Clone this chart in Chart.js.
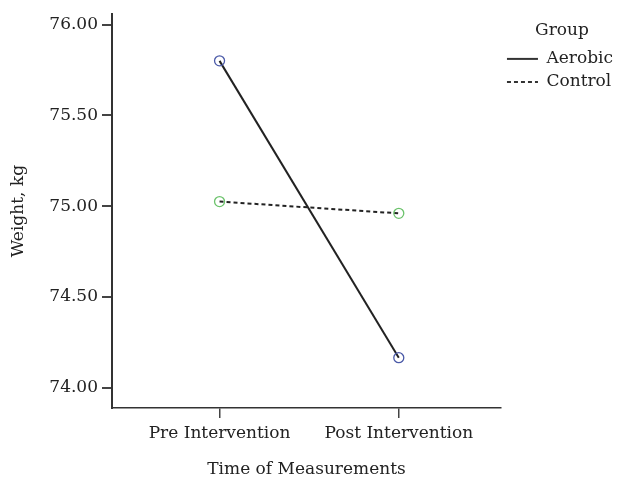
<!DOCTYPE html>
<html>
<head>
<meta charset="utf-8">
<script src="https://cdn.jsdelivr.net/npm/chart.js@4.4.1/dist/chart.umd.min.js"></script>
<style>
  html, body { margin: 0; padding: 0; background: #fff; }
  #c { display: block; }
</style>
</head>
<body>
<canvas id="c" width="617" height="478"></canvas>
<script>
// data
const categories = ['Pre Intervention', 'Post Intervention'];
const groups = ['Aerobic', 'Control'];
const aerobic = [75.80, 74.165];
const control = [75.025, 74.96];
const yTicks = [74.00, 74.50, 75.00, 75.50, 76.00];

const FONT = 'DejaVu Serif';
const FS = 17;
const INK = '#222';

function toPoints(vals) {
  return vals.map((v, i) => ({ x: i, y: v }));
}

const ctx = document.getElementById('c').getContext('2d');
new Chart(ctx, {
  type: 'line',
  data: {
    datasets: [
      {
        label: groups[0],
        data: toPoints(aerobic),
        borderColor: INK,
        borderWidth: 2,
        pointRadius: 5,
        pointBorderWidth: 1.3,
        pointBorderColor: '#4b5aa8',
        pointBackgroundColor: 'rgba(0,0,0,0)',
        fill: false
      },
      {
        label: groups[1],
        data: toPoints(control),
        borderColor: INK,
        borderWidth: 2,
        borderDash: [4, 3],
        pointRadius: 5,
        pointBorderWidth: 1.3,
        pointBorderColor: '#6cc36c',
        pointBackgroundColor: 'rgba(0,0,0,0)',
        fill: false
      }
    ]
  },
  options: {
    responsive: false,
    animation: false,
    layout: { padding: { top: 14, right: -6, left: 0, bottom: 0 } },
    plugins: {
      tooltip: { enabled: false },
      legend: {
        position: 'right',
        align: 'start',
        title: {
          display: true,
          text: 'Group',
          color: INK,
          font: { family: FONT, size: FS },
          padding: { top: 8, bottom: 2 }
        },
        labels: {
          usePointStyle: true,
          pointStyle: 'line',
          pointStyleWidth: 31,
          boxWidth: 31,
          boxHeight: FS,
          padding: 6,
          color: INK,
          font: { family: FONT, size: FS },
          generateLabels: chart => chart.data.datasets.map((ds, i) => ({
            text: ds.label,
            datasetIndex: i,
            strokeStyle: '#333',
            fillStyle: '#333',
            lineWidth: 2,
            lineDash: ds.borderDash || [],
            pointStyle: 'line',
            fontColor: INK
          }))
        }
      }
    },
    scales: {
      x: {
        type: 'linear',
        min: -0.6,
        max: 1.57,
        afterBuildTicks: s => { s.ticks = categories.map((c, i) => ({ value: i })); },
        afterFit: s => { s.height = 70; },
        ticks: {
          color: INK,
          font: { family: FONT, size: FS },
          padding: 5,
          callback: v => categories[v]
        },
        grid: { drawOnChartArea: false, drawTicks: true, tickLength: 10, color: '#444', lineWidth: 1.5 },
        border: { display: true, color: '#333', width: 1.5 },
        title: {
          display: true,
          text: 'Time of Measurements',
          color: INK,
          font: { family: FONT, size: FS },
          padding: { top: 10, bottom: -2 }
        }
      },
      y: {
        min: 73.888,
        max: 76.057,
        afterBuildTicks: s => { s.ticks = yTicks.map(v => ({ value: v })); },
        afterFit: s => { s.width = 112; },
        ticks: {
          color: INK,
          font: { family: FONT, size: FS },
          padding: 4,
          callback: v => v.toFixed(2)
        },
        grid: { drawOnChartArea: false, drawTicks: true, tickLength: 10, color: '#444', lineWidth: 2 },
        border: { display: true, color: '#333', width: 2 },
        title: {
          display: true,
          text: 'Weight, kg',
          color: INK,
          font: { family: FONT, size: FS },
          padding: { top: 8, bottom: 0 }
        }
      }
    }
  }
});
</script>
</body>
</html>
